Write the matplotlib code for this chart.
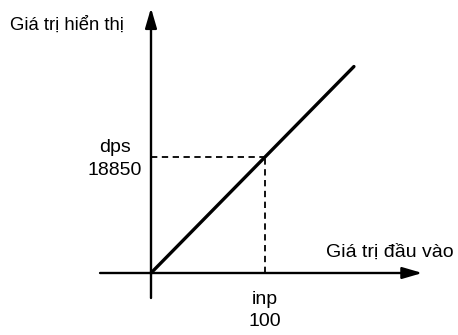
import matplotlib
matplotlib.use("Agg")
import matplotlib.pyplot as plt

# dữ liệu
line_x = [0, 178]
line_y = [0, 33550]
inp = 100
dps = 18850
y_title = "Giá trị hiển thị"
x_title = "Giá trị đầu vào"

fig = plt.figure(figsize=(4.58, 3.35), dpi=100)
ax = fig.add_axes([0, 0, 1, 1])
ax.set_xlim(-132.46, 269.3)
ax.set_ylim(-10075, 44363)
ax.axis("off")

# trục
arrow = dict(arrowstyle="-|>,head_length=1.2,head_width=0.35", color="black",
             lw=1.7, shrinkA=0, shrinkB=0)
ax.annotate("", xy=(238, 0), xytext=(-44.7, 0), arrowprops=arrow)
ax.annotate("", xy=(0, 43060), xytext=(0, -4063), arrowprops=arrow)

# đường thẳng
ax.plot(line_x, line_y, color="black", lw=2.4, solid_capstyle="round")

# đường đứt nét
ax.plot([0, inp], [dps, dps], color="black", lw=1.3, dashes=(3.5, 2.5))
ax.plot([inp, inp], [0, dps], color="black", lw=1.3, dashes=(3.5, 2.5))

lab = dict(ha="center", va="center", fontsize=14, family="Liberation Sans")
ax.text(-31.6, dps + 1600, "dps", **lab)
ax.text(-31.6, dps - 2150, str(dps), **lab)
ax.text(inp, -4230, "inp", **lab)
ax.text(inp, -7800, str(inp), **lab)

ax.text(-124, 40300, y_title, ha="left", va="center", fontsize=13.3, family="Liberation Sans")
ax.text(153.5, 3400, x_title, ha="left", va="center", fontsize=14, family="Liberation Sans")

fig.savefig("out.png", dpi=100)
